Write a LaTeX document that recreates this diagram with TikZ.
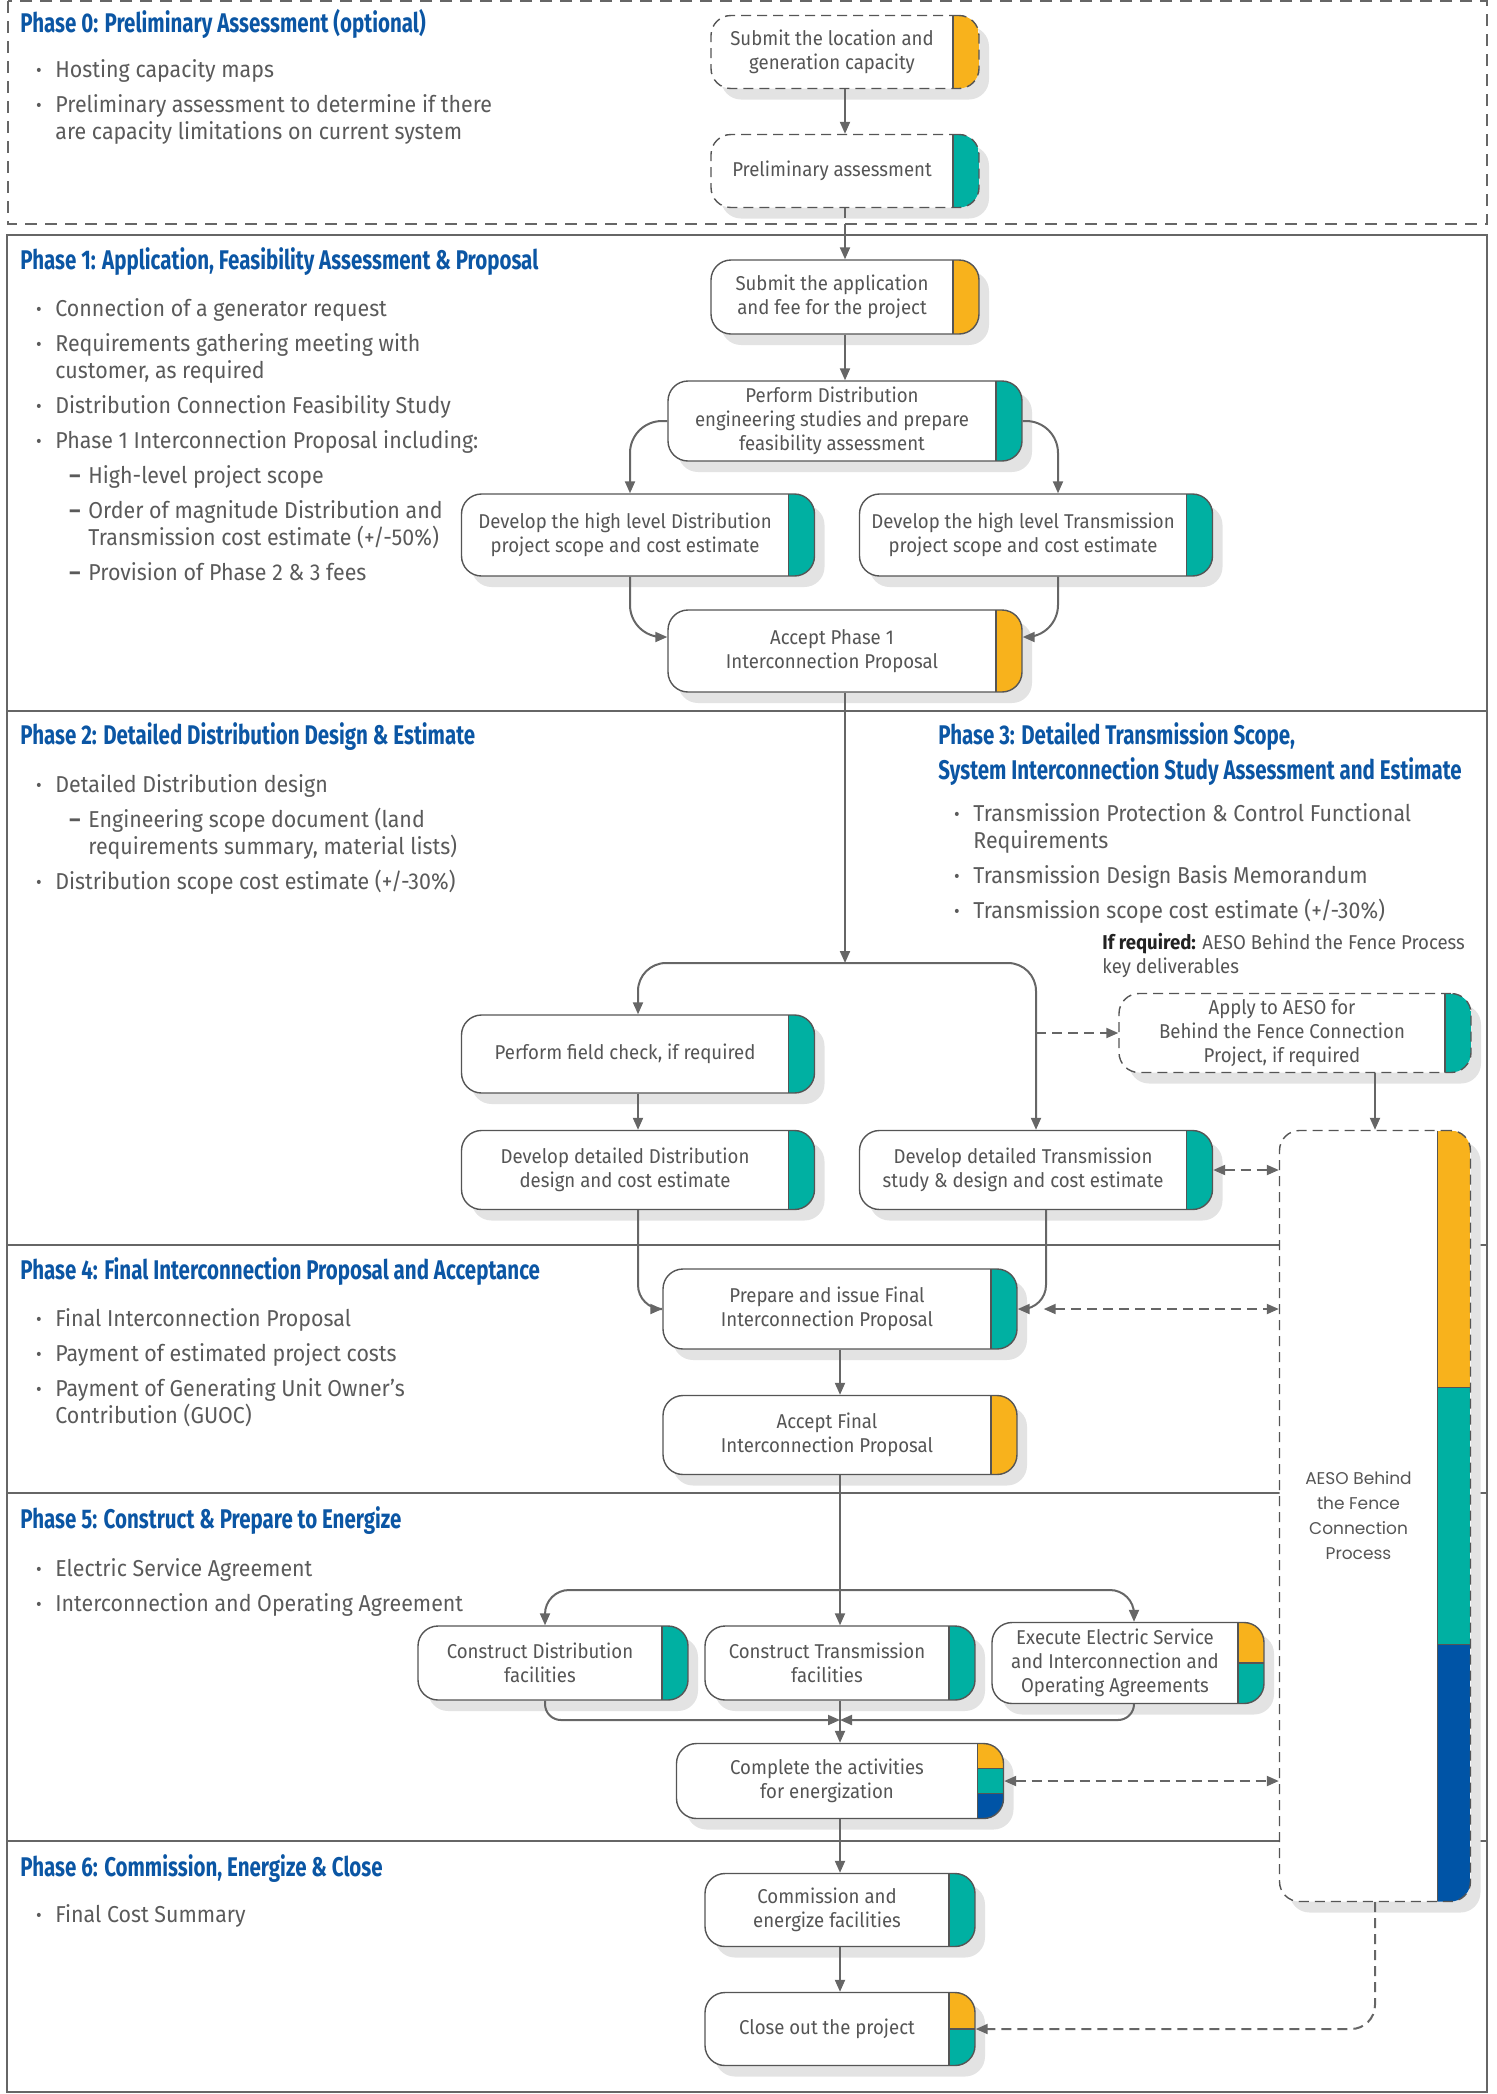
\documentclass[tikz,border=0pt]{standalone}
\usepackage{fontspec}
\setmainfont{Fira Sans}[FakeStretch=0.93]
\newfontfamily\titlefont{Fira Sans}[FakeStretch=0.76]
\newfontfamily\aesofont{Poppins}
\usetikzlibrary{arrows.meta, shadows, calc}

\definecolor{aorange}{HTML}{F8B21C}
\definecolor{ateal}{HTML}{00B0A2}
\definecolor{ablue}{HTML}{0054A6}
\definecolor{tblue}{HTML}{0B56A4}
\definecolor{bodytxt}{HTML}{5A5A5A}
\definecolor{boxtxt}{HTML}{555555}
\definecolor{darktxt}{HTML}{222222}
\definecolor{bordgray}{HTML}{555555}
\definecolor{arrgray}{HTML}{666666}
\definecolor{framegray}{HTML}{666666}
\definecolor{shgray}{HTML}{E3E3E3}

\newcommand{\bodyfont}{\fontsize{11.5}{13.5}\selectfont}
\newcommand{\boxfont}{\fontsize{10}{12}\selectfont}
\newcommand{\itm}{\makebox[9.5pt][l]{\textbf{\textperiodcentered}}}
\newcommand{\con}{\hspace*{9.5pt}}
\newcommand{\dsh}{\hspace*{16.5pt}\makebox[9.5pt][l]{\textbf{–}}}
\newcommand{\subcon}{\hspace*{26pt}}

\tikzset{
  arr/.style={-{Triangle[length=6pt, width=5pt]}, draw=arrgray, line width=1pt},
  arr2/.style={{Triangle[length=6pt, width=5pt]}-{Triangle[length=6pt, width=5pt]}, draw=arrgray, line width=1pt},
  darr/.style={arr, dash pattern=on 5pt off 3pt},
  darr2/.style={arr2, dash pattern=on 5pt off 3pt},
  dline/.style={draw=arrgray, line width=1pt, dash pattern=on 5pt off 3pt},
  phase/.style={anchor=west, inner sep=0pt, align=left, text=tblue,
    font=\titlefont\bfseries\fontsize{13.5}{17.5}\selectfont},
  blist/.style={anchor=north west, inner sep=0pt, align=left, text=bodytxt, font=\bodyfont},
  strip width/.store in=\stripw, strip width=13pt,
  box/.style={rectangle, rounded corners=10pt, draw=bordgray, line width=0.7pt, fill=white,
    inner xsep=4pt, inner ysep=2pt, minimum width=#1, font=\boxfont, text=boxtxt,
    drop shadow={shadow xshift=5pt, shadow yshift=-5.5pt, fill=shgray, opacity=1},
    execute at begin node={\begin{minipage}{\dimexpr#1-\stripw-8pt\relax}\centering},
    execute at end node={\end{minipage}\hspace*{\stripw}}},
  dbox/.style={box=#1, dash pattern=on 5pt off 3pt},
  strip/.style={path picture={
    \fill[#1, sharp corners] ([xshift=-\stripw]path picture bounding box.north east) rectangle (path picture bounding box.south east);
    \draw[bordgray, line width=0.7pt, solid, sharp corners] ([xshift=-\stripw]path picture bounding box.north east)
      -- ([xshift=-\stripw]path picture bounding box.south east);}},
  strip2/.style 2 args={path picture={
    \fill[#1, sharp corners] ([xshift=-\stripw]path picture bounding box.north east) rectangle (path picture bounding box.east);
    \fill[#2, sharp corners] ([xshift=-\stripw]path picture bounding box.east) rectangle (path picture bounding box.south east);
    \draw[bordgray, line width=0.7pt, solid, sharp corners] ([xshift=-\stripw]path picture bounding box.north east)
      -- ([xshift=-\stripw]path picture bounding box.south east)
      ([xshift=-\stripw]path picture bounding box.east) -- (path picture bounding box.east);}},
  strip3/.style n args={3}{path picture={
    \coordinate (s1) at ($(path picture bounding box.north east)!0.3333!(path picture bounding box.south east)$);
    \coordinate (s2) at ($(path picture bounding box.north east)!0.6667!(path picture bounding box.south east)$);
    \fill[#1, sharp corners] ([xshift=-\stripw]path picture bounding box.north east) rectangle (s1);
    \fill[#2, sharp corners] ([xshift=-\stripw]s1) rectangle (s2);
    \fill[#3, sharp corners] ([xshift=-\stripw]s2) rectangle (path picture bounding box.south east);
    \draw[bordgray, line width=0.7pt, solid, sharp corners] ([xshift=-\stripw]path picture bounding box.north east)
      -- ([xshift=-\stripw]path picture bounding box.south east)
      ([xshift=-\stripw]s1) -- (s1) ([xshift=-\stripw]s2) -- (s2);}},
}

\begin{document}
\begin{tikzpicture}[x=0.5pt, y=-0.5pt]
    \useasboundingbox (0, 0) rectangle (1496, 2094);

    % frames of the phases
    \draw[framegray, line width=0.8pt, dash pattern=on 6pt off 4pt] (8, 1) rectangle (1487, 224);
    \draw[framegray, line width=0.8pt] (7, 235) rectangle (1487, 2092);
    \foreach \y in {711, 1245, 1493, 1841}
      \draw[framegray, line width=0.7pt] (7, \y) -- (1487, \y);

    % phase titles
    \node[phase] (t0) at (20, 24) {Phase 0: Preliminary Assessment (optional)};
    \node[phase] (t1) at (20, 262) {Phase 1: Application, Feasibility Assessment \& Proposal};
    \node[phase] (t2) at (20, 737) {Phase 2: Detailed Distribution Design \& Estimate};
    \node[phase] (t3) at (938, 754) {Phase 3: Detailed Transmission Scope,\\System Interconnection Study Assessment and Estimate};
    \node[phase] (t4) at (20, 1272) {Phase 4: Final Interconnection Proposal and Acceptance};
    \node[phase] (t5) at (20, 1521) {Phase 5: Construct \& Prepare to Energize};
    \node[phase] (t6) at (20, 1869) {Phase 6: Commission, Energize \& Close};

    % key deliverables
    \node[blist] (l0) at (36, 59) {\itm Hosting capacity maps\\[4pt]
      \itm Preliminary assessment to determine if there\\
      \con are capacity limitations on current system};
    \node[blist] (l1) at (36, 298) {\itm Connection of a generator request\\[4pt]
      \itm Requirements gathering meeting with\\
      \con customer, as required\\[4pt]
      \itm Distribution Connection Feasibility Study\\[4pt]
      \itm Phase 1 Interconnection Proposal including:\\[4pt]
      \dsh High-level project scope\\[4pt]
      \dsh Order of magnitude Distribution and\\
      \subcon Transmission cost estimate (+/-50\%)\\[4pt]
      \dsh Provision of Phase 2 \& 3 fees};
    \node[blist] (l2) at (36, 774) {\itm Detailed Distribution design\\[4pt]
      \dsh Engineering scope document (land\\
      \subcon requirements summary, material lists)\\[4pt]
      \itm Distribution scope cost estimate (+/-30\%)};
    \node[blist] (l3) at (954, 803) {\itm Transmission Protection \& Control Functional\\
      \con Requirements\\[4pt]
      \itm Transmission Design Basis Memorandum\\[4pt]
      \itm Transmission scope cost estimate (+/-30\%)};
    \node[anchor=west, inner sep=0pt, align=left, font=\boxfont, text=boxtxt] (ifreq) at (1102, 956)
      {{\bfseries\color{darktxt}If required:} AESO Behind the Fence Process\\key deliverables};
    \node[blist] (l4) at (36, 1308) {\itm Final Interconnection Proposal\\[4pt]
      \itm Payment of estimated project costs\\[4pt]
      \itm Payment of Generating Unit Owner’s\\
      \con Contribution (GUOC)};
    \node[blist] (l5) at (36, 1558) {\itm Electric Service Agreement\\[4pt]
      \itm Interconnection and Operating Agreement};
    \node[blist] (l6) at (36, 1904) {\itm Final Cost Summary};

    % steps
    \node[dbox=134pt, strip=aorange, minimum height=36.5pt] (sub0) at (845, 52) {Submit the location and\\generation capacity};
    \node[dbox=134pt, strip=ateal, minimum height=36.5pt] (pre0) at (845, 171) {Preliminary assessment};
    \node[box=134pt, strip=aorange, minimum height=37pt] (sub1) at (845, 297) {Submit the application\\and fee for the project};
    \node[box=177pt, strip=ateal, minimum height=40pt] (perf1) at (845, 421) {Perform Distribution\\engineering studies and prepare\\feasibility assessment};
    \node[box=176.5pt, strip=ateal, minimum height=41pt] (hld1) at (638, 535) {Develop the high level Distribution\\project scope and cost estimate};
    \node[box=176.5pt, strip=ateal, minimum height=41pt] (hlt1) at (1036, 535) {Develop the high level Transmission\\project scope and cost estimate};
    \node[box=177pt, strip=aorange, minimum height=41pt] (acc1) at (845, 651) {Accept Phase 1\\Interconnection Proposal};
    \node[box=176.5pt, strip=ateal, minimum height=39pt] (fld2) at (638, 1054) {Perform field check, if required};
    \node[dbox=176pt, strip=ateal, minimum height=39.5pt] (apl3) at (1295, 1033) {Apply to AESO for\\Behind the Fence Connection\\Project, if required};
    \node[box=176.5pt, strip=ateal, minimum height=39.5pt] (dtd2) at (638, 1170) {Develop detailed Distribution\\design and cost estimate};
    \node[box=176.5pt, strip=ateal, minimum height=39.5pt] (dtt2) at (1036, 1170) {Develop detailed Transmission\\study \& design and cost estimate};
    \node[dbox=95.5pt, strip width=16.5pt, strip3={aorange}{ateal}{ablue}, minimum height=385.5pt,
      font=\aesofont\fontsize{8.5}{12.5}\selectfont] (aeso) at (1375, 1516) {AESO Behind\\the Fence\\Connection\\Process};
    \node[box=177pt, strip=ateal, minimum height=40pt] (pif4) at (840, 1309) {Prepare and issue Final\\Interconnection Proposal};
    \node[box=177pt, strip=aorange, minimum height=39.5pt] (acf4) at (840, 1435) {Accept Final\\Interconnection Proposal};
    \node[box=135pt, strip=ateal, minimum height=37pt] (cd5) at (553, 1663) {Construct Distribution\\facilities};
    \node[box=135pt, strip=ateal, minimum height=37pt] (ct5) at (840, 1663) {Construct Transmission\\facilities};
    \node[box=136pt, strip2={aorange}{ateal}, minimum height=40.5pt] (ex5) at (1128, 1663) {Execute Electric Service\\and Interconnection and\\Operating Agreements};
    \node[box=163.5pt, strip3={aorange}{ateal}{ablue}, minimum height=37.5pt] (cmp5) at (840, 1781) {Complete the activities\\for energization};
    \node[box=135pt, strip=ateal, minimum height=36.5pt] (com6) at (840, 1910) {Commission and\\energize facilities};
    \node[box=135pt, strip2={aorange}{ateal}, minimum height=36.5pt] (clo6) at (840, 2029) {Close out the project};

    % phase 0 and 1 flow
    \draw[arr] (sub0) -- (pre0);
    \coordinate (b01) at (845, 235);
    \draw[dline] (pre0) -- (b01);
    \draw[arr] (b01) -- (sub1);
    \draw[arr] (sub1) -- (perf1);
    \draw[arr, rounded corners=16pt] (perf1.west) -| ([xshift=-4pt]hld1.north);
    \draw[arr, rounded corners=16pt] (perf1.east) -| ([xshift=11pt]hlt1.north);
    \draw[arr, rounded corners=16pt] ([xshift=-4pt]hld1.south) |- ([yshift=7pt]acc1.west);
    \draw[arr, rounded corners=16pt] ([xshift=11pt]hlt1.south) |- ([yshift=7pt]acc1.east);

    % phase 2 and 3 flow
    \coordinate (j2) at (845, 963);
    \draw[arr] (acc1) -- (j2);
    \draw[arr2, rounded corners=14pt] (fld2.north) |- (j2) -| (dtt2.north);
    \draw[darr] (dtt2.north |- apl3.west) -- (apl3.west);
    \draw[arr] (aeso.north |- apl3.south) -- (aeso.north);
    \draw[arr] (fld2) -- (dtd2);
    \draw[darr2] (dtt2.east) -- (dtt2.east -| aeso.west);

    % phase 4 flow
    \draw[arr, rounded corners=12pt] (dtd2.south) |- (pif4.west);
    \draw[arr, rounded corners=12pt] ([xshift=5pt]dtt2.south) |- (pif4.east);
    \draw[darr2] ([xshift=13pt]pif4.east) -- (pif4.east -| aeso.west);
    \draw[arr] (pif4) -- (acf4);

    % phase 5 flow
    \coordinate (j5) at (840, 1590);
    \coordinate (m5) at (840, 1720);
    \draw[arr] (acf4) -- (ct5);
    \draw[arr2, rounded corners=12pt] ([xshift=-4pt]cd5.north) |- (j5) -| ([xshift=3pt]ex5.north);
    \draw[arr, rounded corners=8pt] ([xshift=-4pt]cd5.south) |- (m5);
    \draw[arr, rounded corners=8pt] ([xshift=3pt]ex5.south) |- (m5);
    \draw[arr] (ct5) -- (cmp5);
    \draw[darr2] (cmp5.east) -- (cmp5.east -| aeso.west);

    % phase 6 flow
    \draw[arr] (cmp5) -- (com6);
    \draw[arr] (com6) -- (clo6);
    \draw[darr, rounded corners=12pt] (aeso.south) |- (clo6.east);
\end{tikzpicture}
\end{document}
